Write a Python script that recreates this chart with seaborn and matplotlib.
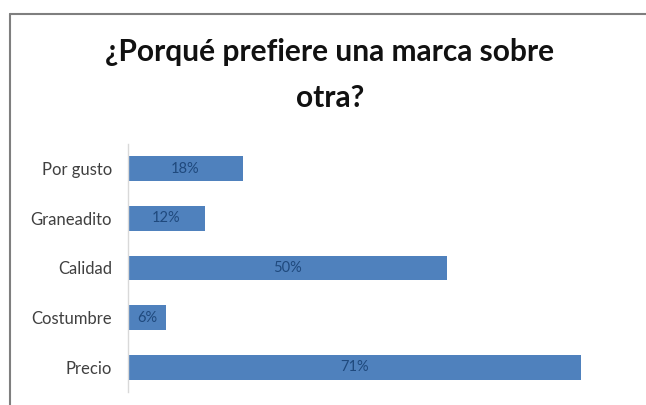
import matplotlib
matplotlib.use("Agg")
import matplotlib.pyplot as plt
from matplotlib.lines import Line2D
import seaborn as sns
import pandas as pd

# Survey results: reasons for preferring one brand over another
categorias = ["Por gusto", "Graneadito", "Calidad", "Costumbre", "Precio"]
porcentajes = [18, 12, 50, 6, 71]
etiquetas = ["18%", "12%", "50%", "6%", "71%"]
titulo = "¿Porqué prefiere una marca sobre\notra?"

df = pd.DataFrame({"motivo": categorias, "pct": porcentajes})

sns.set_theme(style="white")
plt.rcParams["font.family"] = ["Lato", "DejaVu Sans"]

W, H = 646, 405
fig = plt.figure(figsize=(W / 100, H / 100), dpi=100)
fig.patch.set_facecolor("white")

# axes placed in pixel terms: left 128, right 638, top 144, bottom 392
left, right, top, bottom = 128, 638, 144, 392
ax = fig.add_axes([left / W, 1 - bottom / H, (right - left) / W, (bottom - top) / H])

sns.barplot(data=df, x="pct", y="motivo", orient="h", color="#4F81BD",
            saturation=1, width=0.5, ax=ax, edgecolor="none")

ax.set_xlim(0, 80)
ax.set_ylim(len(categorias) - 0.5, -0.5)
ax.set_xlabel("")
ax.set_ylabel("")
ax.set_xticks([])
for s in ["top", "right", "bottom"]:
    ax.spines[s].set_visible(False)
ax.spines["left"].set_color("#D9D9D9")
ax.spines["left"].set_linewidth(1.0)
ax.tick_params(axis="y", length=0, pad=11.5, labelsize=12, labelcolor="#404040")

# value labels centered inside each bar
for i, (v, lab) in enumerate(zip(porcentajes, etiquetas)):
    ax.text(v / 2, i, lab, ha="center", va="center", fontsize=10.5, color="#1F497D")

fig.text(330 / W, 1 - 75 / H, titulo, ha="center", va="center", fontsize=21.5,
         fontweight="bold", color="#111111", linespacing=1.75)

# chart area border (left and top edges)
fig.add_artist(Line2D([9.5 / W, 9.5 / W], [0, 1 - 13.5 / H], transform=fig.transFigure,
                      color="#7F7F7F", lw=1.5))
fig.add_artist(Line2D([9.5 / W, 1], [1 - 13.5 / H, 1 - 13.5 / H], transform=fig.transFigure,
                      color="#7F7F7F", lw=1.5))

fig.savefig("out.png", dpi=100, facecolor="white")
